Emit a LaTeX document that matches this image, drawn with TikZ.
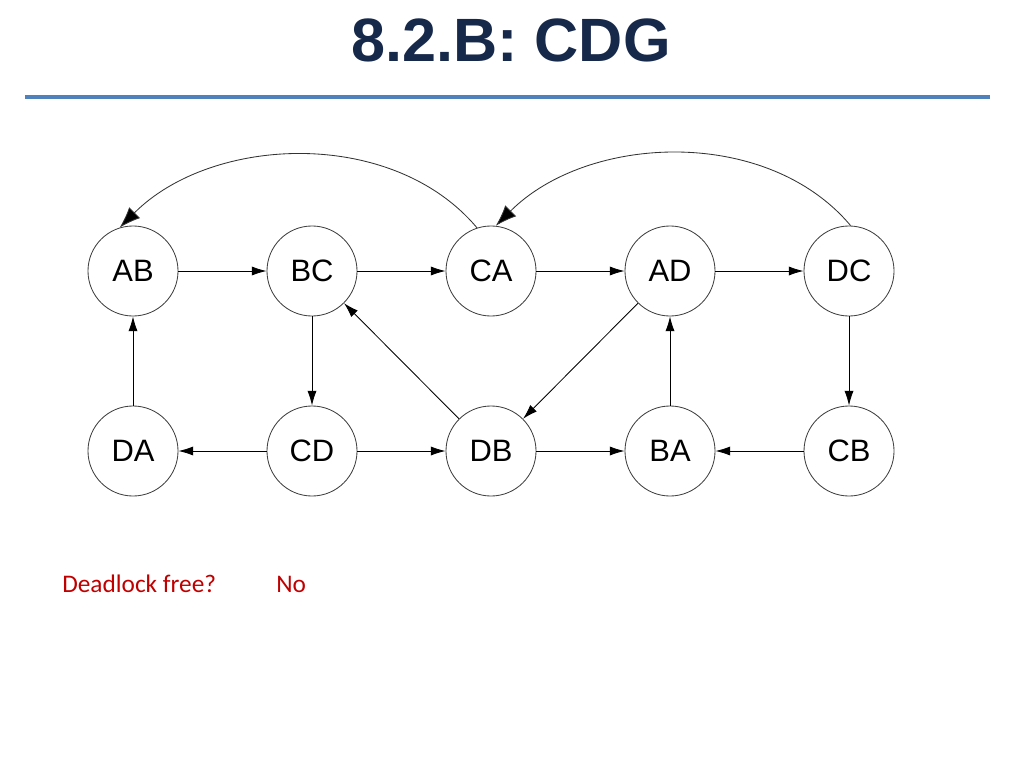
\documentclass[tikz,border=0pt]{standalone}
\usepackage{fontspec}
\setmainfont{Liberation Sans}
\newfontfamily\notefont{Carlito}
\usepackage{tikz}
\usetikzlibrary{arrows.meta}
\definecolor{titlenavy}{HTML}{17294A}
\definecolor{rulelineblue}{HTML}{4F81BD}
\definecolor{notered}{HTML}{C00000}
\tikzset{
  chan/.style={circle,draw=black!75,line width=0.6pt,minimum size=2.25cm,inner sep=0pt,font=\fontsize{22}{26}\selectfont},
  dep/.style={line width=0.6pt,-{Latex[length=10.5pt,width=6.5pt]}},
  wrapdep/.style={line width=0.6pt,draw=black!80,-{Latex[length=15pt,width=11pt,fill=black]}}
}

\begin{document}
\begin{tikzpicture}[x=0.025cm,y=0.025cm]
        \useasboundingbox (0,0) rectangle (1024,-768);

        % Title
        \node[anchor=base,text=titlenavy,font=\fontsize{43.5}{48}\selectfont\bfseries] (title) at (511,-62) {8.2.B: CDG};
        \coordinate (ruleL) at (25,-97);
        \coordinate (ruleR) at (990,-97);
        \draw[rulelineblue,line width=2.3pt] (ruleL) -- (ruleR);

        % Channels
        \node[chan] (AB) at (133,-271) {AB};
        \node[chan] (BC) at (312,-271) {BC};
        \node[chan] (CA) at (491,-271) {CA};
        \node[chan] (AD) at (670,-271) {AD};
        \node[chan] (DC) at (849,-271) {DC};
        \node[chan] (DA) at (133,-451) {DA};
        \node[chan] (CD) at (312,-451) {CD};
        \node[chan] (DB) at (491,-451) {DB};
        \node[chan] (BA) at (670,-451) {BA};
        \node[chan] (CB) at (849,-451) {CB};

        % Dependencies
        \draw[dep] (AB) -- (BC);
        \draw[dep] (BC) -- (CA);
        \draw[dep] (CA) -- (AD);
        \draw[dep] (AD) -- (DC);
        \draw[dep] (BC) -- (CD);
        \draw[dep] (DA) -- (AB);
        \draw[dep] (CD) -- (DA);
        \draw[dep] (CD) -- (DB);
        \draw[dep] (DB) -- (BC);
        \draw[dep] (AD) -- (DB);
        \draw[dep] (DB) -- (BA);
        \draw[dep] (BA) -- (AD);
        \draw[dep] (CB) -- (BA);
        \draw[dep] (DC) -- (CB);
        \draw[wrapdep] (CA.108) to[out=130,in=45,looseness=0.94] (AB.107);
        \draw[wrapdep] (DC.88) to[out=130,in=45,looseness=0.94] (CA.84);

        % Answer
        \node[anchor=base west,text=notered,font=\notefont\fontsize{18}{22}\selectfont,inner sep=0pt] (question) at (62,-592) {Deadlock free?};
        \node[anchor=base west,text=notered,font=\notefont\fontsize{18}{22}\selectfont,inner sep=0pt] (answer) at (276,-592) {No};
\end{tikzpicture}
\end{document}
